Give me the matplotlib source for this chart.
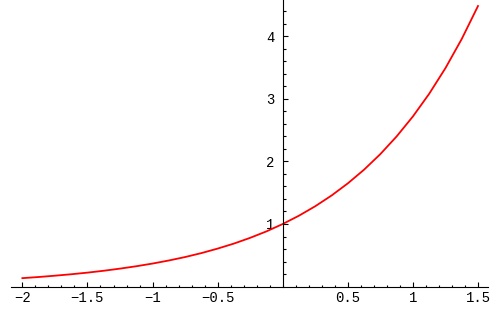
import matplotlib
matplotlib.use("Agg")
import matplotlib.pyplot as plt
import numpy as np
from matplotlib.ticker import FixedLocator, FixedFormatter

x_vals = [-2.0, -1.875, -1.75, -1.625, -1.5, -1.375, -1.25, -1.125, -1.0,
          -0.875, -0.75, -0.625, -0.5, -0.375, -0.25, -0.125, 0.0,
          0.125, 0.25, 0.375, 0.5, 0.625, 0.75, 0.875, 1.0,
          1.125, 1.25, 1.375, 1.5]
y_vals = [0.135, 0.153, 0.174, 0.197, 0.223, 0.253, 0.287, 0.325, 0.368,
          0.417, 0.472, 0.535, 0.607, 0.687, 0.779, 0.882, 1.0,
          1.133, 1.284, 1.455, 1.649, 1.868, 2.117, 2.399, 2.718,
          3.080, 3.490, 3.955, 4.482]

x_ticks = [-2, -1.5, -1, -0.5, 0.5, 1, 1.5]
x_labels = ["\u22122", "\u22121.5", "\u22121", "\u22120.5", "0.5", "1", "1.5"]
y_ticks = [1, 2, 3, 4]
y_labels = ["1", "2", "3", "4"]

fig = plt.figure(figsize=(5.0, 3.09), dpi=100)
ax = fig.add_axes([0, 0, 1, 1])
ax.plot(x_vals, y_vals, color="#ff0000", lw=1.3)

ax.set_xlim(-2.172, 1.669)
ax.set_ylim(-0.358, 4.578)

for s in ["top", "right"]:
    ax.spines[s].set_visible(False)
ax.spines["bottom"].set_position(("data", 0))
ax.spines["left"].set_position(("data", 0))
ax.spines["bottom"].set_bounds(-2.087, 1.573)
ax.spines["left"].set_bounds(0, 4.578)
for s in ["bottom", "left"]:
    ax.spines[s].set_linewidth(0.8)

x_minor = [v for v in np.round(np.arange(-2.0, 1.55, 0.1), 2)]
y_minor = [v for v in np.round(np.arange(0.2, 4.5, 0.2), 2)]

ax.xaxis.set_major_locator(FixedLocator(x_ticks))
ax.xaxis.set_major_formatter(FixedFormatter(x_labels))
ax.xaxis.set_minor_locator(FixedLocator(x_minor))
ax.yaxis.set_major_locator(FixedLocator(y_ticks))
ax.yaxis.set_major_formatter(FixedFormatter(y_labels))
ax.yaxis.set_minor_locator(FixedLocator(y_minor))

ax.tick_params(axis="both", which="major", direction="in", length=3.5, width=0.8,
               labelsize=10, pad=3)
ax.tick_params(axis="both", which="minor", direction="in", length=1.8, width=0.8)
ax.tick_params(axis="y", which="major", pad=6)
for lab in ax.get_xticklabels() + ax.get_yticklabels():
    lab.set_fontfamily("Liberation Mono")

fig.savefig("out.png", dpi=100)
